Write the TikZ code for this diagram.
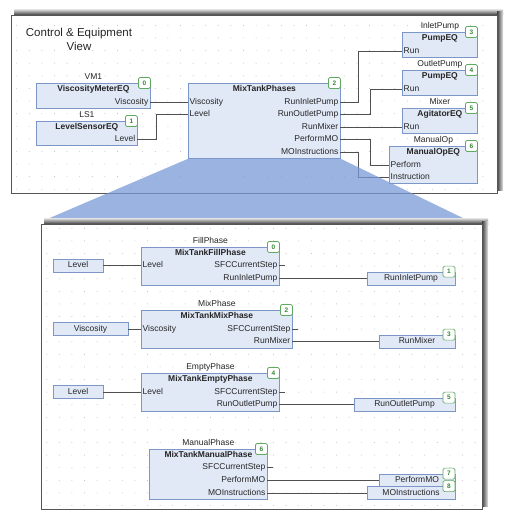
\documentclass[tikz,border=0pt]{standalone}
\usepackage{fontspec}
\setmainfont{Liberation Sans}
\usetikzlibrary{positioning}
\definecolor{fbfill}{RGB}{225,233,247}
\definecolor{fbline}{RGB}{125,150,200}
\definecolor{badgeline}{RGB}{95,170,95}
\definecolor{badgetext}{RGB}{55,135,55}
\definecolor{wirecol}{RGB}{80,80,80}
\definecolor{dotcol}{RGB}{185,185,185}
\definecolor{zoomblue}{RGB}{122,154,214}
\definecolor{framecol}{RGB}{85,85,85}
\tikzstyle{fb} = [rectangle, draw=fbline, fill=fbfill, line width=0.8pt, anchor=north west, inner sep=0pt]
\tikzstyle{var} = [rectangle, draw=fbline, fill=fbfill, line width=0.8pt, minimum height=13pt, inner sep=0pt, text height=6.3pt, text depth=1.7pt]
\tikzstyle{badge} = [rectangle, rounded corners=1.5pt, draw=badgeline, fill=white, line width=0.7pt, minimum width=12pt, minimum height=11pt, inner sep=0pt, text=badgetext, font=\fontsize{6.5}{7}\selectfont\bfseries, anchor=east]
\tikzstyle{inst} = [inner sep=0pt, text height=6.3pt, text depth=1.7pt]
\tikzstyle{head} = [inner sep=0pt, text height=6.3pt, text depth=1.7pt, font=\fontsize{8.5}{10}\selectfont\bfseries]
\tikzstyle{pin} = [inner xsep=1.5pt, inner ysep=0pt, text height=6.3pt, text depth=1.7pt]
\tikzstyle{wire} = [draw=wirecol, line width=0.8pt]
\begin{document}
\begin{tikzpicture}[x=1pt, y=-1pt, font=\fontsize{8.5}{10}\selectfont, text=black!85]
    \useasboundingbox (0,0) rectangle (520,527);

    % Upper frame with shadow
    \shade[top color=black!10, bottom color=black!75] (14,9) rectangle (503,15);
    \shade[left color=black!75, right color=black!10] (497,12) rectangle (503,190);
    \draw[framecol, fill=white, line width=0.8pt] (11,15) rectangle (497,193);
    \foreach \x in {16.7,29.3,...,494}
        \foreach \y in {25.4,38,...,191}
            \fill[dotcol] (\x,\y) circle (0.45pt);
    \node[align=center, font=\fontsize{11.5}{14}\selectfont] (title) at (79,39) {Control \& Equipment\\View};

    % Sensors
    \node[fb, minimum width=114pt, minimum height=25pt] (vm) at (36,83) {};
    \node[inst, above=2pt of vm.north] (vmName) {VM1};
    \node[head, below=2pt of vm.north] (vmHead) {ViscosityMeterEQ};
    \node[badge] (vmNo) at (vm.north east) {0};
    \node[pin, anchor=east] (vmVisc) at (150,102) {Viscosity};

    \node[fb, minimum width=101pt, minimum height=24pt] (ls) at (36,121) {};
    \node[inst, above=2pt of ls.north] (lsName) {LS1};
    \node[head, below=2pt of ls.north] (lsHead) {LevelSensorEQ};
    \node[badge] (lsNo) at (ls.north east) {1};
    \node[pin, anchor=east] (lsLevel) at (137,139.5) {Level};

    % Phases block
    \node[fb, minimum width=152pt, minimum height=75pt] (mtp) at (188,83) {};
    \node[head, below=2pt of mtp.north] (mtpHead) {MixTankPhases};
    \node[badge] (mtpNo) at (mtp.north east) {2};
    \node[pin, anchor=west] (mtpVisc) at (188,102) {Viscosity};
    \node[pin, anchor=west] (mtpLevel) at (188,114.5) {Level};
    \node[pin, anchor=east] (mtpInlet) at (340,102) {RunInletPump};
    \node[pin, anchor=east] (mtpOutlet) at (340,114.5) {RunOutletPump};
    \node[pin, anchor=east] (mtpMixer) at (340,127) {RunMixer};
    \node[pin, anchor=east] (mtpPerform) at (340,139.5) {PerformMO};
    \node[pin, anchor=east] (mtpMOI) at (340,152) {MOInstructions};

    % Equipment
    \node[fb, minimum width=75pt, minimum height=25pt] (pin) at (402,32) {};
    \node[inst, above=2pt of pin.north] (pinName) {InletPump};
    \node[head, below=2pt of pin.north] (pinHead) {PumpEQ};
    \node[badge] (pinNo) at (pin.north east) {3};
    \node[pin, anchor=west] (pinRun) at (402,51.5) {Run};

    \node[fb, minimum width=75pt, minimum height=25pt] (pout) at (402,70) {};
    \node[inst, above=2pt of pout.north] (poutName) {OutletPump};
    \node[head, below=2pt of pout.north] (poutHead) {PumpEQ};
    \node[badge] (poutNo) at (pout.north east) {4};
    \node[pin, anchor=west] (poutRun) at (402,89) {Run};

    \node[fb, minimum width=75pt, minimum height=25pt] (agi) at (402,108) {};
    \node[inst, above=2pt of agi.north] (agiName) {Mixer};
    \node[head, below=2pt of agi.north] (agiHead) {AgitatorEQ};
    \node[badge] (agiNo) at (agi.north east) {5};
    \node[pin, anchor=west] (agiRun) at (402,127) {Run};

    \node[fb, minimum width=88pt, minimum height=37pt] (mop) at (389,146) {};
    \node[inst, above=2pt of mop.north] (mopName) {ManualOp};
    \node[head, below=2pt of mop.north] (mopHead) {ManualOpEQ};
    \node[badge] (mopNo) at (mop.north east) {6};
    \node[pin, anchor=west] (mopPerform) at (389,165) {Perform};
    \node[pin, anchor=west] (mopInstr) at (389,177.5) {Instruction};

    % Upper connections
    \draw[wire] (vmVisc.east) -- (mtpVisc.west);
    \draw[wire] (lsLevel.east) -- ++(19,0) |- (mtpLevel.west);
    \draw[wire] (mtpInlet.east) -- ++(18,0) |- (pinRun.west);
    \draw[wire] (mtpOutlet.east) -- ++(30,0) |- (poutRun.west);
    \draw[wire] (mtpMixer.east) -- (agiRun.west);
    \draw[wire] (mtpPerform.east) -- ++(30,0) |- (mopPerform.west);
    \draw[wire] (mtpMOI.east) -- ++(18,0) |- (mopInstr.west);

    % Zoom projection
    \fill[zoomblue, opacity=0.75] (mtp.south west) -- (mtp.south east) -- (467,220) -- (45,220) -- cycle;

    % Lower frame with shadow
    \shade[top color=black!10, bottom color=black!75] (44,218) rectangle (488,224);
    \shade[left color=black!75, right color=black!10] (482,221) rectangle (488,506);
    \draw[framecol, fill=white, line width=0.8pt] (41,224) rectangle (482,509);
    \foreach \x in {46.7,59.3,...,480}
        \foreach \y in {228.3,240.9,...,506}
            \fill[dotcol] (\x,\y) circle (0.45pt);

    % Fill phase
    \node[fb, minimum width=138pt, minimum height=38pt] (fill) at (141,247) {};
    \node[inst, above=2pt of fill.north] (fillName) {FillPhase};
    \node[head, below=2pt of fill.north] (fillHead) {MixTankFillPhase};
    \node[badge] (fillNo) at (fill.north east) {0};
    \node[pin, anchor=west] (fillLevel) at (141,265.5) {Level};
    \node[pin, anchor=east] (fillSFC) at (279,265.5) {SFCCurrentStep};
    \node[pin, anchor=east] (fillRun) at (279,278.5) {RunInletPump};
    \node[var, minimum width=50pt] (lvlA) at (78,265.5) {Level};
    \node[var, minimum width=88pt] (runInlet) at (411,278.5) {RunInletPump};
    \node[badge] (runInletNo) at (runInlet.north east) {1};
    \draw[wire] (lvlA.east) -- (fillLevel.west);
    \draw[wire] (fillSFC.east) -- ++(6,0);
    \draw[wire] (fillRun.east) -- (runInlet.west);

    % Mix phase
    \node[fb, minimum width=151pt, minimum height=38pt] (mix) at (141,310) {};
    \node[inst, above=2pt of mix.north] (mixName) {MixPhase};
    \node[head, below=2pt of mix.north] (mixHead) {MixTankMixPhase};
    \node[badge] (mixNo) at (mix.north east) {2};
    \node[pin, anchor=west] (mixVisc) at (141,329) {Viscosity};
    \node[pin, anchor=east] (mixSFC) at (292,329) {SFCCurrentStep};
    \node[pin, anchor=east] (mixRun) at (292,341.5) {RunMixer};
    \node[var, minimum width=75pt] (viscA) at (90.5,329) {Viscosity};
    \node[var, minimum width=76pt] (runMixer) at (417,341.5) {RunMixer};
    \node[badge] (runMixerNo) at (runMixer.north east) {3};
    \draw[wire] (viscA.east) -- (mixVisc.west);
    \draw[wire] (mixSFC.east) -- ++(6,0);
    \draw[wire] (mixRun.east) -- (runMixer.west);

    % Empty phase
    \node[fb, minimum width=138pt, minimum height=38pt] (empty) at (141,373) {};
    \node[inst, above=2pt of empty.north] (emptyName) {EmptyPhase};
    \node[head, below=2pt of empty.north] (emptyHead) {MixTankEmptyPhase};
    \node[badge] (emptyNo) at (empty.north east) {4};
    \node[pin, anchor=west] (emptyLevel) at (141,392) {Level};
    \node[pin, anchor=east] (emptySFC) at (279,392) {SFCCurrentStep};
    \node[pin, anchor=east] (emptyRun) at (279,404.5) {RunOutletPump};
    \node[var, minimum width=50pt] (lvlB) at (78,392) {Level};
    \node[var, minimum width=101pt] (runOutlet) at (404.5,404.5) {RunOutletPump};
    \node[badge] (runOutletNo) at (runOutlet.north east) {5};
    \draw[wire] (lvlB.east) -- (emptyLevel.west);
    \draw[wire] (emptySFC.east) -- ++(6,0);
    \draw[wire] (emptyRun.east) -- (runOutlet.west);

    % Manual phase
    \node[fb, minimum width=118pt, minimum height=50pt] (manual) at (149,449) {};
    \node[inst, above=2pt of manual.north] (manualName) {ManualPhase};
    \node[head, below=2pt of manual.north] (manualHead) {MixTankManualPhase};
    \node[badge] (manualNo) at (manual.north east) {6};
    \node[pin, anchor=east] (manualSFC) at (267,467) {SFCCurrentStep};
    \node[pin, anchor=east] (manualPerf) at (267,480.5) {PerformMO};
    \node[pin, anchor=east] (manualMOI) at (267,493) {MOInstructions};
    \node[var, minimum width=76pt] (performMO) at (417,480.5) {PerformMO};
    \node[var, minimum width=88pt] (moInstr) at (411,493) {MOInstructions};
    \node[badge] (performMONo) at (performMO.north east) {7};
    \node[badge] (moInstrNo) at (moInstr.north east) {8};
    \draw[wire] (manualSFC.east) -- ++(6,0);
    \draw[wire] (manualPerf.east) -- (performMO.west);
    \draw[wire] (manualMOI.east) -- (moInstr.west);

\end{tikzpicture}
\end{document}
